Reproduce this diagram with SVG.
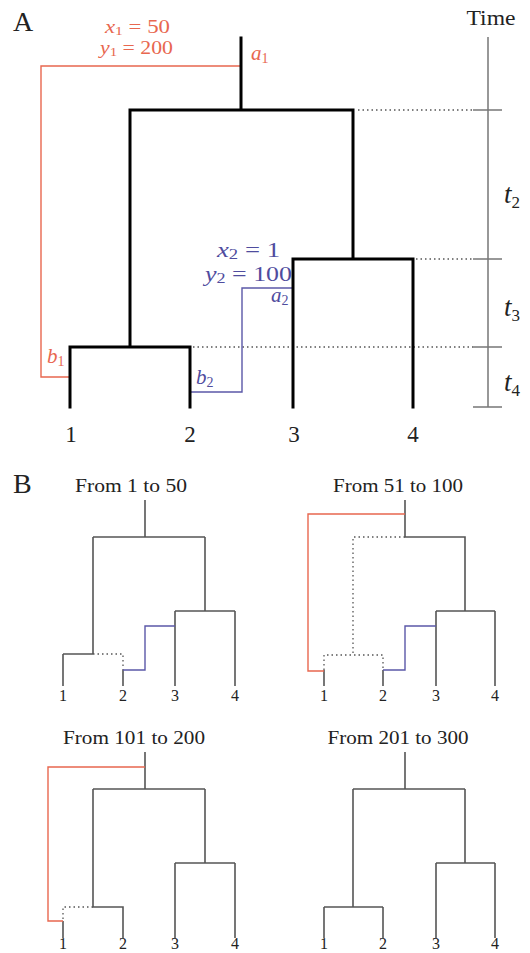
<svg xmlns="http://www.w3.org/2000/svg" width="530" height="953" viewBox="0 0 530 953">
<style>
text{font-family:"Liberation Serif","DejaVu Serif",serif;fill:#222}
.it{font-style:italic}
.thick{stroke:#000;stroke-width:3;fill:none;stroke-linecap:square}
.thin{stroke:#555;stroke-width:1.6;fill:none}
.dot{stroke:#555;stroke-width:1.3;fill:none;stroke-dasharray:1.5 3}
.red{stroke:#e8674f;stroke-width:1.4;fill:none}
.blue{stroke:#5b58a8;stroke-width:1.4;fill:none}
.axis{stroke:#777;stroke-width:1.5;fill:none}
.rt{fill:#e8674f}
.bt{fill:#4f4c9e}
.lbA{font-size:23px;text-anchor:middle}
.lbB{font-size:16px;text-anchor:middle}
.title{font-size:19px;text-anchor:middle}
</style>
<rect width="530" height="953" fill="#fff"/>

<g id="panelA">
<text x="13" y="31" font-size="28">A</text>
<g id="time-axis">
<text x="491" y="25" font-size="21" text-anchor="middle" textLength="49" lengthAdjust="spacingAndGlyphs">Time</text>
<path class="axis" d="M488 37V407M473 110H502M473 259H502M473 347H502M473 407H502"/>
<text x="504" y="203" font-size="27" class="it">t<tspan font-size="17" dy="5" font-style="normal">2</tspan></text>
<text x="504" y="316" font-size="27" class="it">t<tspan font-size="17" dy="5" font-style="normal">3</tspan></text>
<text x="504" y="391" font-size="27" class="it">t<tspan font-size="17" dy="5" font-style="normal">4</tspan></text>
</g>
<g id="connectorsA">
<path class="dot" d="M358 110H473M416 259H473M193 347H473"/>
<path class="red" d="M241 66H41V377H70"/>
<path class="blue" d="M293 288H242V392H190"/>
<path class="thick" d="M241 38V110M130 110H353M130 110V347M353 110V259M70 347H190M70 347V407M190 347V407M293 259H413M293 259V407M413 259V407"/>
</g>
<g id="labelsA">
<text x="105" y="33" font-size="19" class="rt" textLength="65" lengthAdjust="spacingAndGlyphs"><tspan class="it">x</tspan><tspan font-size="13" dy="2">1</tspan><tspan dy="-2"> = 50</tspan></text>
<text x="100" y="54" font-size="19" class="rt" textLength="73" lengthAdjust="spacingAndGlyphs"><tspan class="it">y</tspan><tspan font-size="13" dy="2">1</tspan><tspan dy="-2"> = 200</tspan></text>
<text x="251" y="60" font-size="21" class="rt it">a<tspan font-size="14" dy="3" font-style="normal">1</tspan></text>
<text x="47" y="363" font-size="21" class="rt it">b<tspan font-size="14" dy="3" font-style="normal">1</tspan></text>
<text x="217" y="257" font-size="20" class="bt" textLength="63" lengthAdjust="spacingAndGlyphs"><tspan class="it">x</tspan><tspan font-size="14" dy="2">2</tspan><tspan dy="-2"> = 1</tspan></text>
<text x="205" y="281" font-size="20" class="bt" textLength="87" lengthAdjust="spacingAndGlyphs"><tspan class="it">y</tspan><tspan font-size="14" dy="2">2</tspan><tspan dy="-2"> = 100</tspan></text>
<text x="271" y="302" font-size="21" class="bt it">a<tspan font-size="14" dy="3" font-style="normal">2</tspan></text>
<text x="196" y="384" font-size="21" class="bt it">b<tspan font-size="14" dy="3" font-style="normal">2</tspan></text>
<text class="lbA" x="71" y="442">1</text>
<text class="lbA" x="190" y="442">2</text>
<text class="lbA" x="294" y="442">3</text>
<text class="lbA" x="413" y="442">4</text>
</g>
</g>

<g id="panelB">
<text x="13" y="493" font-size="28">B</text>

<g id="tree-1-50">
<text class="title" x="131" y="492" textLength="112" lengthAdjust="spacingAndGlyphs">From 1 to 50</text>
<path class="thin" d="M145 500V537M93 537H205M93 537V654M63 654H93M63 654V686M205 537V611M175 611H235M175 611V686M235 611V686M123 670V686"/>
<path class="dot" d="M93 654H123V670"/>
<path class="blue" d="M123 670H145V626H175"/>
<text class="lbB" x="63" y="701">1</text><text class="lbB" x="123" y="701">2</text><text class="lbB" x="175" y="701">3</text><text class="lbB" x="235" y="701">4</text>
</g>

<g id="tree-51-100">
<text class="title" x="398" y="492" textLength="130" lengthAdjust="spacingAndGlyphs">From 51 to 100</text>
<path class="thin" d="M405 500V537H465V611M436 611H495M436 611V686M495 611V686M324 670V686M383 670V686"/>
<path class="dot" d="M405 537H353V655M324 670V655H383V670"/>
<path class="red" d="M405 514H308V671H324"/>
<path class="blue" d="M383 670H405V626H436"/>
<text class="lbB" x="324" y="701">1</text><text class="lbB" x="383" y="701">2</text><text class="lbB" x="436" y="701">3</text><text class="lbB" x="495" y="701">4</text>
</g>

<g id="tree-101-200">
<text class="title" x="134" y="744" textLength="142" lengthAdjust="spacingAndGlyphs">From 101 to 200</text>
<path class="thin" d="M145 752V789M93 789H205M93 789V907H123V938M205 789V863M175 863H235M175 863V938M235 863V938M63 921V938"/>
<path class="dot" d="M93 907H63V921"/>
<path class="red" d="M145 767H48V921H63"/>
<text class="lbB" x="63" y="949">1</text><text class="lbB" x="123" y="949">2</text><text class="lbB" x="175" y="949">3</text><text class="lbB" x="235" y="949">4</text>
</g>

<g id="tree-201-300">
<text class="title" x="398" y="744" textLength="141" lengthAdjust="spacingAndGlyphs">From 201 to 300</text>
<path class="thin" d="M405 752V789M353 789H465M353 789V907M324 907H383M324 907V938M383 907V938M465 789V863M436 863H495M436 863V938M495 863V938"/>
<text class="lbB" x="324" y="949">1</text><text class="lbB" x="383" y="949">2</text><text class="lbB" x="436" y="949">3</text><text class="lbB" x="495" y="949">4</text>
</g>
</g>
</svg>
